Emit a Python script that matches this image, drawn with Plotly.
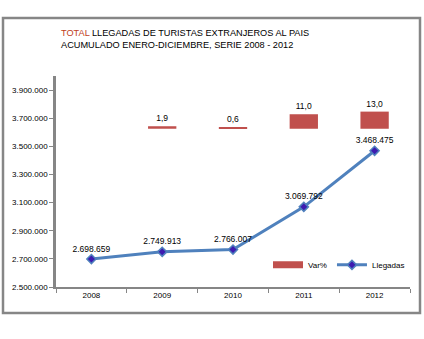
import plotly.graph_objects as go

years = ["2008", "2009", "2010", "2011", "2012"]
llegadas = [2698659, 2749913, 2766007, 3069792, 3468475]
llegadas_labels = ["2.698.659", "2.749.913", "2.766.007", "3.069.792", "3.468.475"]
var_years = ["2009", "2010", "2011", "2012"]
var_pct = [1.9, 0.6, 11.0, 13.0]
var_labels = ["1,9", "0,6", "11,0", "13,0"]

FONT = "Liberation Sans"
BLUE = "#4F81BD"
RED = "#C0504D"
GRAY = "#868686"

fig = go.Figure()

fig.add_trace(go.Bar(
    x=var_years, y=var_pct, name="Var%", yaxis="y2", showlegend=False,
    marker=dict(color=RED, line=dict(width=0)),
    width=0.4,
    text=var_labels, textposition="outside",
    textfont=dict(family=FONT, size=8.5, color="#000000"),
    cliponaxis=False,
))

# legend entry for the bars (wide red swatch as in the original)
fig.add_trace(go.Scatter(
    x=[None], y=[None], name="Var%", mode="lines",
    line=dict(color=RED, width=7), yaxis="y2",
))

fig.add_trace(go.Scatter(
    x=years, y=llegadas, name="Llegadas", mode="lines+markers+text",
    line=dict(color=BLUE, width=3),
    marker=dict(symbol="diamond", size=7, color="#3D1BB0",
                line=dict(color=BLUE, width=1.5)),
    text=llegadas_labels, textposition="top center",
    textfont=dict(family=FONT, size=8.5, color="#000000"),
    cliponaxis=False,
))

fig.add_annotation(
    xref="paper", yref="paper", x=3 / 354, y=1.0, xanchor="left", yanchor="bottom",
    yshift=24, align="left", showarrow=False,
    text="<span style='color:#C0401A'>TOTAL</span> LLEGADAS DE TURISTAS EXTRANJEROS AL PAIS<br>"
         "ACUMULADO ENERO-DICIEMBRE, SERIE 2008 - 2012",
    font=dict(family=FONT, size=9.2, color="#000000"),
)

# outer frame
fig.add_shape(type="rect", xref="paper", yref="paper",
              x0=-53 / 354, x1=364 / 354, y0=-26 / 211, y1=269 / 211,
              line=dict(color=GRAY, width=2.5), fillcolor="rgba(0,0,0,0)")

fig.update_layout(
    width=424, height=339,
    margin=dict(l=56, r=14, t=76, b=52, autoexpand=False),
    paper_bgcolor="white", plot_bgcolor="white",
    separators=",.",
    showlegend=True,
    legend=dict(orientation="h", x=1.0, y=0.105, xanchor="right", yanchor="middle",
                font=dict(family=FONT, size=8, color="#000000"),
                bgcolor="rgba(0,0,0,0)", itemwidth=30, tracegroupgap=0),
    xaxis=dict(type="category", categoryorder="array", categoryarray=years,
               showgrid=False, showline=True, linecolor=GRAY,
               linewidth=1.5, ticks="outside", tickson="boundaries", ticklen=4,
               tickcolor=GRAY, tickfont=dict(family=FONT, size=8, color="#000000"),
               range=[-0.5, 4.5]),
    yaxis=dict(range=[2500000, 4000000], tick0=2500000, dtick=200000, tickformat=",d",
               showgrid=False, showline=True, linecolor=GRAY, linewidth=2.5,
               ticks="outside", ticklen=4, tickcolor=GRAY, zeroline=False,
               tickfont=dict(family=FONT, size=8, color="#000000")),
    yaxis2=dict(range=[-120, 40], overlaying="y", side="right", visible=False,
                showgrid=False, zeroline=False),
    barmode="overlay",
)

fig.write_html("out.html")
